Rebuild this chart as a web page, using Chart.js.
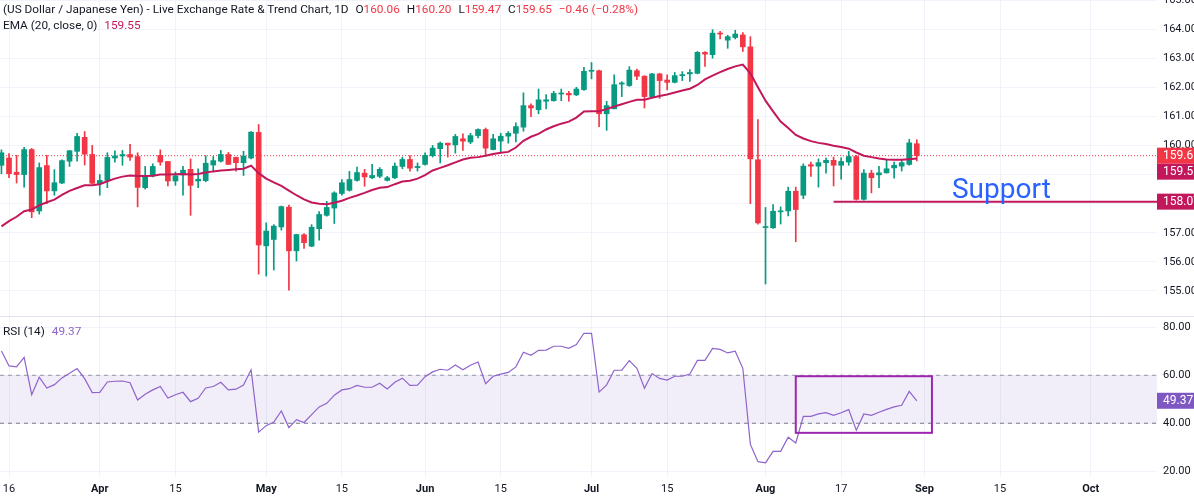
<!DOCTYPE html>
<html lang="en">
<head>
  <meta charset="UTF-8">
  <title>USD/JPY Daily Chart</title>
  <script src="https://cdn.jsdelivr.net/npm/chart.js@4.4.1/dist/chart.umd.min.js"></script>
  <style>
    * { margin: 0; padding: 0; box-sizing: border-box; }
    body {
      width: 1194px;
      height: 501px;
      overflow: hidden;
      position: relative;
      background: #fff;
      font-family: Roboto, sans-serif;
      color: #131722;
    }
    .pane { position: absolute; left: 0; width: 1194px; }
    #pricePane { top: 0; height: 316px; }
    #rsiPane { top: 316px; height: 185px; }
    .sep { position: absolute; left: 0; top: 316px; width: 1194px; height: 1px; background: #e0e3eb; }
    .legend { position: absolute; left: 3px; font-size: 11.8px; line-height: 15px; white-space: nowrap; }
    .legend span { margin-left: 4px; }
    .red { color: #f23645; }
    .ema { color: #c2185b; }
    .rsi { color: #8e63cc; }
  </style>
</head>
<body>
  <div class="pane" id="pricePane"><canvas id="priceChart"></canvas></div>
  <div class="pane" id="rsiPane"><canvas id="rsiChart"></canvas></div>
  <div class="sep"></div>

  <div class="legend" style="top:2px">(US Dollar / Japanese Yen) - Live Exchange Rate &amp; Trend Chart, 1D
    <span>O<b class="red" style="font-weight:normal">160.06</b></span>
    <span>H<b class="red" style="font-weight:normal">160.20</b></span>
    <span>L<b class="red" style="font-weight:normal">159.47</b></span>
    <span>C<b class="red" style="font-weight:normal">159.65</b></span>
    <span class="red">&minus;0.46 (&minus;0.28%)</span>
  </div>
  <div class="legend" style="top:18px">EMA (20, close, 0) <span class="ema">159.55</span></div>
  <div class="legend" style="top:324px">RSI (14) <span class="rsi">49.37</span></div>

  <script>
    // trading-day index of the first candle (0 = Mar 16)
    const firstDay = -1;

    const opens = [159.32, 159.57, 159.08, 159.00, 159.86, 157.75, 159.31, 158.44, 158.71, 159.46,
      159.80, 160.28, 159.69, 158.69, 158.80, 159.57, 159.64, 159.69, 159.62, 158.55,
      158.95, 159.66, 159.45, 158.78, 158.99, 159.18, 158.78, 158.79, 159.33, 159.46,
      159.69, 159.59, 159.41, 159.57, 160.45, 156.55, 156.77, 157.20, 157.88, 156.38,
      156.93, 156.54, 157.14, 157.60, 157.85, 158.35, 158.46, 158.80, 159.05, 158.89,
      158.94, 158.80, 158.89, 159.28, 159.52, 159.24, 159.35, 159.65, 159.89, 160.08,
      160.02, 160.23, 160.12, 160.34, 160.55, 159.86, 160.15, 160.32, 160.42, 160.63,
      161.37, 161.23, 161.52, 161.54, 161.77, 161.79, 161.74, 161.92, 162.55, 162.57,
      161.09, 161.26, 162.11, 162.06, 162.57, 162.38, 161.68, 162.46, 162.25, 162.17,
      162.40, 162.46, 162.48, 163.20, 163.12, 163.86, 163.62, 163.71, 163.80, 163.39,
      159.51, 157.18, 157.17, 157.72, 157.75, 158.43, 158.29, 159.34, 159.29, 159.41,
      159.49, 159.32, 159.43, 159.62, 158.15, 159.05, 158.99, 159.06, 159.23, 159.29,
      159.35, 160.06];
    const highs = [159.85, 159.72, 159.66, 159.94, 159.90, 159.40, 159.66, 159.17, 159.51, 159.83,
      160.42, 160.48, 160.00, 159.00, 159.75, 159.82, 159.83, 160.04, 159.75, 159.28,
      159.37, 159.85, 159.45, 159.09, 159.28, 159.54, 159.20, 159.65, 159.62, 159.83,
      159.76, 159.60, 159.80, 160.48, 160.72, 157.34, 157.28, 157.92, 157.95, 156.95,
      156.97, 157.28, 157.73, 158.08, 158.41, 158.83, 159.11, 159.26, 159.18, 159.35,
      159.24, 158.94, 159.40, 159.60, 159.65, 159.40, 159.75, 160.00, 160.12, 160.08,
      160.38, 160.40, 160.42, 160.57, 160.60, 160.38, 160.42, 160.48, 160.78, 161.81,
      161.43, 161.94, 161.75, 161.86, 161.94, 161.86, 162.00, 162.69, 162.85, 162.59,
      161.52, 162.43, 162.19, 162.71, 162.63, 162.40, 162.48, 162.48, 162.43, 162.51,
      162.54, 162.61, 163.23, 163.23, 163.98, 163.92, 163.79, 163.96, 163.88, 163.74,
      160.89, 157.87, 157.97, 157.89, 158.57, 158.57, 159.37, 159.43, 159.54, 159.57,
      159.60, 159.58, 159.80, 159.66, 159.17, 159.15, 159.28, 159.49, 159.43, 159.51,
      160.21, 160.20];
    const lows = [159.03, 158.89, 158.71, 158.57, 157.52, 157.64, 158.00, 158.29, 158.69, 159.28,
      159.46, 159.33, 158.69, 158.29, 158.55, 159.43, 159.32, 159.49, 157.89, 158.50,
      158.92, 159.32, 158.61, 158.63, 158.29, 157.60, 158.55, 158.75, 159.11, 159.43,
      159.35, 159.12, 158.97, 159.54, 155.58, 155.51, 155.72, 157.09, 155.03, 156.03,
      156.46, 156.52, 156.75, 157.57, 157.32, 158.29, 158.43, 158.77, 158.60, 158.86,
      158.89, 158.78, 158.86, 159.20, 159.12, 159.12, 159.32, 159.60, 159.40, 159.60,
      159.74, 159.83, 160.06, 160.26, 159.66, 159.85, 159.77, 160.08, 160.12, 160.49,
      160.99, 161.09, 161.26, 161.52, 161.54, 161.52, 161.71, 161.89, 162.29, 160.65,
      160.52, 161.26, 161.68, 162.03, 162.26, 161.29, 161.66, 161.62, 161.91, 162.15,
      162.23, 162.20, 162.46, 162.72, 163.00, 163.66, 163.34, 163.66, 163.23, 158.00,
      157.30, 155.24, 157.15, 157.30, 157.58, 156.69, 158.17, 158.94, 158.57, 159.05,
      158.61, 158.84, 159.32, 158.12, 158.12, 158.37, 158.55, 159.05, 158.88, 159.12,
      159.32, 159.47];
    const closes = [159.75, 159.03, 159.00, 159.86, 157.72, 159.24, 158.44, 158.72, 159.48, 159.82,
      160.31, 159.70, 158.70, 158.80, 159.59, 159.64, 159.69, 159.60, 158.56, 158.95,
      159.28, 159.43, 158.78, 158.96, 159.15, 158.63, 158.84, 159.39, 159.48, 159.69,
      159.35, 159.41, 159.64, 160.46, 156.58, 157.06, 157.23, 157.90, 156.38, 156.94,
      156.66, 157.19, 157.63, 157.87, 158.37, 158.72, 158.83, 159.07, 158.92, 158.97,
      159.18, 158.89, 159.29, 159.52, 159.22, 159.28, 159.66, 159.91, 160.08, 160.02,
      160.31, 160.15, 160.34, 160.55, 159.91, 160.23, 160.32, 160.42, 160.65, 161.37,
      161.29, 161.57, 161.57, 161.79, 161.79, 161.74, 161.94, 162.55, 162.57, 161.09,
      161.37, 162.09, 162.15, 162.59, 162.38, 161.68, 162.46, 162.23, 162.17, 162.40,
      162.42, 162.51, 163.20, 163.14, 163.86, 163.83, 163.74, 163.83, 163.39, 159.54,
      157.34, 157.19, 157.74, 157.74, 158.43, 157.80, 159.29, 159.29, 159.41, 159.49,
      159.32, 159.45, 159.62, 158.15, 159.05, 158.89, 159.06, 159.20, 159.32, 159.41,
      160.09, 159.65];
    const ema20 = [157.22, 157.40, 157.55, 157.74, 157.80, 157.94, 158.05, 158.14, 158.30, 158.44,
      158.54, 158.63, 158.63, 158.67, 158.77, 158.86, 158.93, 158.97, 158.95, 158.95,
      158.96, 159.00, 159.00, 159.01, 159.02, 159.00, 159.02, 159.07, 159.11, 159.14,
      159.16, 159.18, 159.20, 159.31, 159.05, 158.86, 158.73, 158.61, 158.45, 158.29,
      158.15, 158.04, 158.00, 157.98, 158.03, 158.10, 158.20, 158.28, 158.37, 158.47,
      158.55, 158.57, 158.67, 158.76, 158.79, 158.86, 158.98, 159.14, 159.23, 159.32,
      159.42, 159.52, 159.58, 159.60, 159.65, 159.71, 159.75, 159.78, 159.93, 160.16,
      160.30, 160.40, 160.55, 160.66, 160.75, 160.82, 160.96, 161.17, 161.18, 161.18,
      161.25, 161.34, 161.42, 161.50, 161.57, 161.57, 161.64, 161.70, 161.75, 161.82,
      161.89, 161.95, 162.08, 162.27, 162.40, 162.52, 162.63, 162.72, 162.78, 162.48,
      162.00, 161.54, 161.17, 160.82, 160.60, 160.36, 160.24, 160.15, 160.09, 160.05,
      159.99, 159.95, 159.89, 159.76, 159.65, 159.60, 159.55, 159.52, 159.51, 159.51,
      159.53, 159.55];
    const rsi14 = [70.1, 63.9, 63.5, 67.5, 51.9, 59.2, 54.7, 56.1, 58.9, 60.8,
      62.8, 58.6, 52.8, 52.9, 57.2, 57.5, 57.6, 56.9, 49.7, 52.1,
      53.9, 55.3, 50.5, 51.9, 52.9, 49.0, 50.4, 54.7, 55.3, 57.1,
      53.9, 54.2, 55.9, 62.3, 36.3, 39.0, 40.5, 45.1, 38.2, 41.5,
      40.3, 43.6, 46.8, 48.3, 51.7, 53.9, 54.4, 55.8, 55.0, 55.0,
      56.7, 54.3, 57.1, 58.8, 55.8, 55.9, 59.4, 61.4, 62.5, 62.1,
      64.3, 62.3, 64.2, 65.5, 56.5, 59.6, 60.5, 61.2, 63.5, 69.6,
      68.3, 70.4, 70.5, 72.1, 72.1, 71.2, 72.8, 77.5, 77.5, 53.0,
      56.0, 62.1, 62.1, 66.1, 62.9, 54.6, 60.7, 58.7, 58.0, 59.6,
      59.6, 60.5, 66.2, 66.2, 71.2, 70.8, 69.3, 70.0, 62.9, 31.2,
      24.0, 23.5, 28.3, 28.3, 34.2, 31.8, 42.9, 42.9, 43.9, 44.4,
      43.3, 44.4, 45.7, 37.1, 43.9, 43.3, 44.6, 45.8, 46.8, 47.5,
      53.3, 49.37];

    const tickIdx = [0, 12, 22, 34, 44, 55, 65, 77, 87, 100, 110, 121, 131, 143];
    const tickText = ['16', 'Apr', '15', 'May', '15', 'Jun', '15', 'Jul', '15', 'Aug', '17', 'Sep', '15', 'Oct'];
    const priceTicks = [155, 156, 157, 158, 159, 160, 161, 162, 163, 164, 165];
    const rsiTicks = [20, 40, 60, 80];

    const supportLevel = 158.07;
    const supportFrom = 109;
    const rsiUpper = 60;
    const rsiLower = 40;
    // highlighted RSI consolidation box: [fromDay, toDay, topRsi, bottomRsi]
    const rsiBox = [104, 122, 59.6, 36.0];

    const xMin = -1.19, xMax = 151.75;
    const priceMin = 154.14, priceMax = 165;
    const rsiMin = 17.6, rsiMax = 84.7;
    const axisWidth = 37;

    const up = '#089981', down = '#f23645', emaColor = '#c2185b', rsiColor = '#8e63cc';
    const grid = '#f0f3fa';
    Chart.defaults.font.family = 'Roboto, sans-serif';
    Chart.defaults.color = '#131722';

    const days = closes.map((_, k) => firstDay + k);
    const last = closes.length - 1;
    const candleColor = closes.map((c, k) => c >= opens[k] ? up : down);

    function fixedX(s) { s.height = 0; s.paddingLeft = 0; s.paddingRight = 0; }
    function rightAxis(s) { s.width = axisWidth; s.paddingTop = 0; s.paddingBottom = 0; }

    function axisBox(ctx, area, y, value, color, prevBottom) {
      const h = 16;
      let top = y - h / 2;
      if (prevBottom !== null && top < prevBottom) top = prevBottom;
      ctx.fillStyle = color;
      ctx.fillRect(area.right, top, axisWidth + 10, h);
      ctx.fillStyle = '#fff';
      ctx.font = '12px Roboto, sans-serif';
      ctx.textBaseline = 'middle';
      ctx.textAlign = 'left';
      ctx.fillText(value.toFixed(2), area.right + 6, top + h / 2 + 0.5);
      return top + h;
    }

    const priceExtras = {
      id: 'priceExtras',
      afterDraw(chart) {
        const { ctx, chartArea, scales } = chart;
        ctx.save();
        ctx.fillStyle = '#2962ff';
        ctx.font = '28px Roboto, sans-serif';
        ctx.textBaseline = 'alphabetic';
        ctx.fillText('Support', scales.x.getPixelForValue(124.65), scales.y.getPixelForValue(158.19));
        let b = axisBox(ctx, chartArea, scales.y.getPixelForValue(closes[last]), closes[last], down, null);
        axisBox(ctx, chartArea, scales.y.getPixelForValue(ema20[last]), ema20[last], emaColor, b);
        axisBox(ctx, chartArea, scales.y.getPixelForValue(supportLevel), supportLevel, emaColor, null);
        ctx.restore();
      }
    };

    const rsiExtras = {
      id: 'rsiExtras',
      afterDraw(chart) {
        const { ctx, chartArea, scales } = chart;
        ctx.save();
        const x1 = scales.x.getPixelForValue(rsiBox[0]);
        const x2 = scales.x.getPixelForValue(rsiBox[1]);
        const y1 = scales.y.getPixelForValue(rsiBox[2]);
        const y2 = scales.y.getPixelForValue(rsiBox[3]);
        ctx.strokeStyle = '#9c27b0';
        ctx.lineWidth = 2;
        ctx.strokeRect(x1, y1, x2 - x1, y2 - y1);
        axisBox(ctx, chartArea, scales.y.getPixelForValue(rsi14[last]), rsi14[last], '#7e57c2', null);
        ctx.restore();
      }
    };

    const xTicksBase = {
      type: 'linear',
      min: xMin,
      max: xMax,
      offset: false,
      afterBuildTicks: s => { s.ticks = tickIdx.map(v => ({ value: v })); },
      grid: { color: grid, drawTicks: false, offset: false },
      border: { display: false }
    };

    new Chart(document.getElementById('priceChart'), {
      type: 'bar',
      data: {
        datasets: [
          {
            type: 'line',
            data: ema20.map((v, k) => ({ x: days[k], y: v })),
            borderColor: emaColor,
            borderWidth: 2,
            pointRadius: 0,
            order: 0
          },
          {
            data: opens.map((o, k) => ({ x: days[k], y: [o, closes[k]] })),
            backgroundColor: candleColor,
            barThickness: 5,
            minBarLength: 1,
            grouped: false,
            order: 1
          },
          {
            data: lows.map((l, k) => ({ x: days[k], y: [l, highs[k]] })),
            backgroundColor: candleColor,
            barThickness: 1,
            grouped: false,
            order: 2
          },
          {
            type: 'line',
            data: [{ x: supportFrom, y: supportLevel }, { x: xMax, y: supportLevel }],
            borderColor: emaColor,
            borderWidth: 2,
            pointRadius: 0,
            order: 3
          },
          {
            type: 'line',
            data: [{ x: xMin, y: closes[last] }, { x: xMax, y: closes[last] }],
            borderColor: down,
            borderWidth: 1,
            borderDash: [1, 2],
            pointRadius: 0,
            order: 4
          }
        ]
      },
      options: {
        responsive: true,
        maintainAspectRatio: false,
        animation: false,
        layout: { padding: 0 },
        plugins: { legend: { display: false }, tooltip: { enabled: false } },
        scales: {
          x: Object.assign({}, xTicksBase, { ticks: { display: false }, afterFit: fixedX }),
          y: {
            position: 'right',
            min: priceMin,
            max: priceMax,
            afterBuildTicks: s => { s.ticks = priceTicks.map(v => ({ value: v })); },
            afterFit: rightAxis,
            ticks: { callback: v => v.toFixed(2), font: { size: 11 }, padding: 6 },
            grid: { color: grid, drawTicks: false },
            border: { display: false }
          }
        }
      },
      plugins: [priceExtras]
    });

    new Chart(document.getElementById('rsiChart'), {
      type: 'line',
      data: {
        datasets: [
          {
            data: rsi14.map((v, k) => ({ x: days[k], y: v })),
            borderColor: rsiColor,
            borderWidth: 1.2,
            pointRadius: 0,
            order: 0
          },
          {
            data: [{ x: xMin, y: rsiUpper }, { x: xMax, y: rsiUpper }],
            borderColor: '#9598a1',
            borderWidth: 1,
            borderDash: [4, 4],
            pointRadius: 0,
            order: 1
          },
          {
            data: [{ x: xMin, y: rsiLower }, { x: xMax, y: rsiLower }],
            borderColor: '#787b86',
            borderWidth: 1,
            borderDash: [4, 4],
            pointRadius: 0,
            fill: { target: '-1' },
            backgroundColor: 'rgba(126, 87, 194, 0.1)',
            order: 2
          }
        ]
      },
      options: {
        responsive: true,
        maintainAspectRatio: false,
        animation: false,
        layout: { padding: 0 },
        plugins: { legend: { display: false }, tooltip: { enabled: false }, filler: { propagate: false } },
        scales: {
          x: Object.assign({}, xTicksBase, {
            afterFit: s => { s.height = 24; s.paddingLeft = 0; s.paddingRight = 0; },
            ticks: {
              autoSkip: false,
              maxRotation: 0,
              padding: 6,
              font: c => ({ size: 11, weight: (c.tick && isNaN(tickText[tickIdx.indexOf(c.tick.value)])) ? 'bold' : 'normal' }),
              callback: v => tickText[tickIdx.indexOf(v)]
            }
          }),
          y: {
            position: 'right',
            min: rsiMin,
            max: rsiMax,
            afterBuildTicks: s => { s.ticks = rsiTicks.map(v => ({ value: v })); },
            afterFit: rightAxis,
            ticks: { callback: v => v.toFixed(2), font: { size: 11 }, padding: 6 },
            grid: { color: grid, drawTicks: false },
            border: { display: false }
          }
        }
      },
      plugins: [rsiExtras]
    });
  </script>
</body>
</html>
